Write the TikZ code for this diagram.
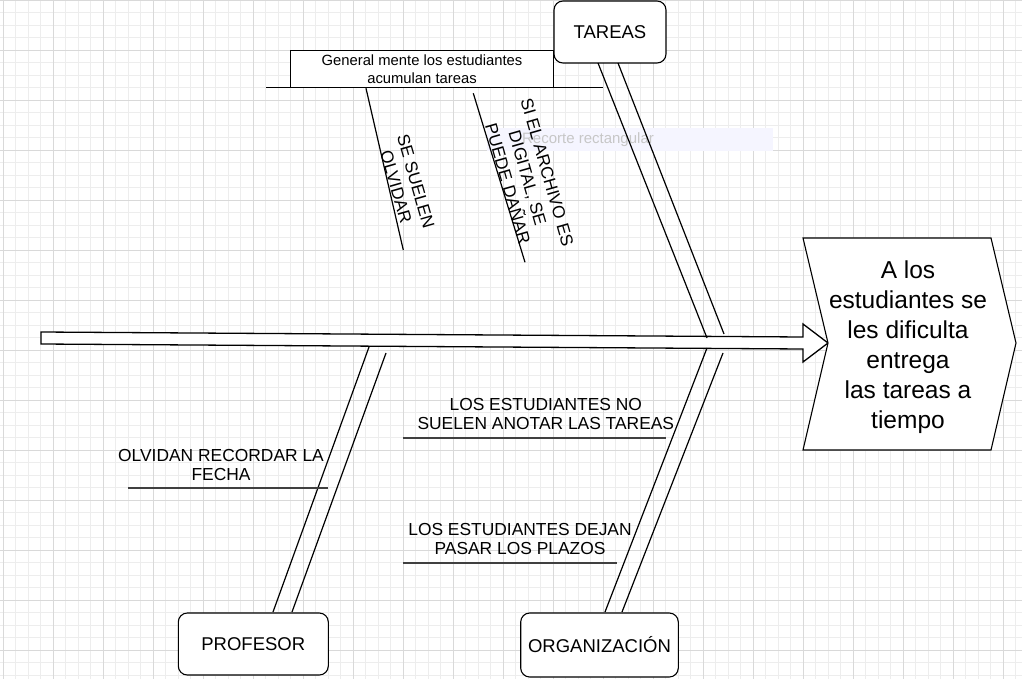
\documentclass[tikz,border=0pt]{standalone}
\usepackage{fontspec}
\setmainfont{Liberation Sans}
\begin{document}
\begin{tikzpicture}[x=1pt,y=-1pt,
  gridminor/.style={draw=black!7, line width=0.7pt},
  gridmajor/.style={draw=black!15, line width=0.8pt},
  bone/.style={draw=black, line width=1.2pt},
  under/.style={draw=black!75, line width=1.8pt},
  catbox/.style={draw=black, line width=1.1pt, rounded corners=9pt, fill=white, font=\fontsize{18.5}{22}\selectfont},
  lbl/.style={font=\fontsize{17.4}{19}\selectfont, align=center, inner sep=0pt},
  rlbl/.style={font=\fontsize{17.2}{20.5}\selectfont, align=center, inner sep=0pt, rotate=-74}
]
\useasboundingbox (0,0) rectangle (1022,679);
\fill[white] (0,0) rectangle (1022,679);
% grid
\foreach \i in {0,...,81} { \draw[gridminor] ({3.3+12.5*\i},0) -- ++(0,679); }
\foreach \j in {0,...,54} { \draw[gridminor] (0,{12.5*\j}) -- ++(1022,0); }
\foreach \i in {0,...,20} { \draw[gridmajor] ({3.3+50*\i},0) -- ++(0,679); }
\foreach \j in {0,...,13} { \draw[gridmajor] (0,{50*\j}) -- ++(1022,0); }

% snipping-tool watermark
\fill[blue!4] (487,128) rectangle (773,151);
\node[font=\fontsize{15}{17}\selectfont, text=black!22, inner sep=0pt] (wm) at (588,140) {Recorte rectangular};

% main spine arrow
\draw[line width=1.3pt, fill=white] (41,332) -- (803,337) -- (803,324) -- (828,343) -- (803,362) -- (803,349) -- (41,344) -- cycle;
\coordinate (tail) at (41,338);

% effect chevron
\draw[line width=1.1pt, fill=white] (803,238) -- (991,238) -- (1016,343) -- (991,450) -- (803,450) -- (828,343) -- cycle;
\node[font=\fontsize{24.5}{30}\selectfont, align=center] (effect) at (908,347) {A los\\estudiantes se\\les dificulta\\entrega\\las tareas a\\tiempo};

% category boxes
\node[catbox, minimum width=112pt, minimum height=62pt] (tareas) at (610,32) {TAREAS};
\node[catbox, minimum width=150pt, minimum height=62pt] (profesor) at (253.3,644) {PROFESOR};
\node[catbox, minimum width=157.6pt, minimum height=64pt] (organiz) at (599.5,645) {ORGANIZACIÓN};

% TAREAS bone
\coordinate (t1a) at (598,63); \coordinate (t1b) at (707,338);
\coordinate (t2a) at (618,63); \coordinate (t2b) at (724,334);
\draw[bone] (t1a) -- (t1b);
\draw[bone] (t2a) -- (t2b);

% ORGANIZACION bone
\coordinate (o1a) at (707,348); \coordinate (o1b) at (605,612);
\coordinate (o2a) at (723,353); \coordinate (o2b) at (622,612);
\draw[bone] (o1a) -- (o1b);
\draw[bone] (o2a) -- (o2b);

% PROFESOR bone
\coordinate (p1a) at (369,347); \coordinate (p1b) at (273,612);
\coordinate (p2a) at (386,353); \coordinate (p2b) at (292,612);
\draw[bone] (p1a) -- (p1b);
\draw[bone] (p2a) -- (p2b);

% General mente box and base line
\node[draw=black, line width=1.1pt, fill=white, minimum width=262.6pt, minimum height=37pt, inner sep=0pt,
      font=\fontsize{14.8}{17.5}\selectfont, align=center] (gen) at (422,69.2) {General mente los estudiantes\\acumulan tareas};
\coordinate (gl) at (266,87.7); \coordinate (gr) at (603.3,87.7);
\draw[line width=1.3pt] (gl) -- (gr);

% sub-causes of TAREAS
\coordinate (s1a) at (366,88.3); \coordinate (s1b) at (403.3,250);
\coordinate (s2a) at (473.3,93.3); \coordinate (s2b) at (525,262.3);
\draw[bone] (s1a) -- (s1b);
\draw[bone] (s2a) -- (s2b);
\node[rlbl] (olvidar) at (406,184) {SE SUELEN\\OLVIDAR};
\node[rlbl] (digital) at (527.5,178) {SI EL ARCHIVO ES\\DIGITAL, SE\\PUEDE DAÑAR};

% sub-causes of ORGANIZACION
\node[lbl] (anotar) at (545.8,414) {LOS ESTUDIANTES NO\\SUELEN ANOTAR LAS TAREAS};
\coordinate (u1a) at (403.3,437.7); \coordinate (u1b) at (666,437.7);
\draw[under] (u1a) -- (u1b);
\node[lbl] (plazos) at (520,539) {LOS ESTUDIANTES DEJAN\\PASAR LOS PLAZOS};
\coordinate (u2a) at (403.3,562.7); \coordinate (u2b) at (616.7,562.7);
\draw[under] (u2a) -- (u2b);

% sub-cause of PROFESOR
\node[lbl] (fecha) at (221,465) {OLVIDAN RECORDAR LA\\FECHA};
\coordinate (u3a) at (128.3,487.7); \coordinate (u3b) at (328.3,487.7);
\draw[under] (u3a) -- (u3b);
\end{tikzpicture}
\end{document}
